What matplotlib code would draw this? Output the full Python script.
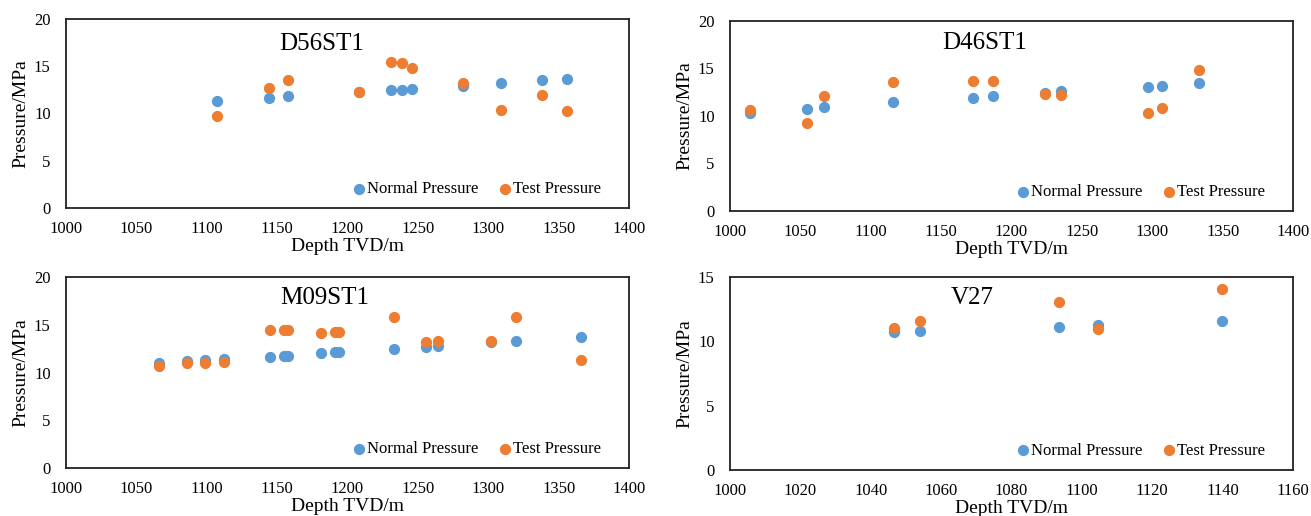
import numpy as np
import matplotlib.pyplot as plt

plt.rcParams['font.family'] = ['Liberation Serif', 'DejaVu Serif']

blue = '#5B9BD5'
orange = '#ED7D31'

# D56ST1
d56_depth = [1107, 1144, 1158, 1208, 1231, 1239, 1246, 1282, 1309, 1338, 1356]
d56_normal = [11.37, 11.6, 11.8, 12.3, 12.46, 12.5, 12.6, 12.9, 13.2, 13.5, 13.66]
d56_test = [9.75, 12.75, 13.5, 12.3, 15.5, 15.35, 14.8, 13.2, 10.4, 12.0, 10.3]

# D46ST1
d46_depth = [1014, 1055, 1067, 1116, 1173, 1187, 1224, 1235, 1297, 1307, 1333]
d46_normal = [10.3, 10.77, 10.95, 11.44, 11.94, 12.1, 12.46, 12.6, 13.1, 13.2, 13.5]
d46_test = [10.63, 9.26, 12.15, 13.6, 13.66, 13.66, 12.36, 12.25, 10.28, 10.85, 14.8]

# M09ST1
m09_depth = [1066, 1086, 1099, 1112, 1145, 1155, 1158, 1181, 1191, 1194,
             1233, 1256, 1264, 1302, 1320, 1366]
m09_normal = [10.96, 11.17, 11.27, 11.4, 11.65, 11.72, 11.72, 12.03, 12.1, 12.1,
              12.49, 12.7, 12.77, 13.15, 13.32, 13.67]
m09_test = [10.71, 10.99, 10.96, 11.06, 14.43, 14.5, 14.5, 14.12, 14.22, 14.22,
            15.8, 13.15, 13.32, 13.32, 15.8, 11.3]

# V27
v27_depth = [1046.6, 1054, 1093.4, 1104.6, 1139.7]
v27_normal = [10.7, 10.8, 11.12, 11.28, 11.6]
v27_test = [11.07, 11.56, 13.07, 11.0, 14.09]

panels = [
    ('D56ST1', d56_depth, d56_normal, d56_test, [0.0503, 0.5969, 0.4295, 0.3663],
     (1000, 1400), np.arange(1000, 1401, 50), (0, 20), [0, 5, 10, 15, 20], (0.455, 0.87)),
    ('D46ST1', d46_depth, d46_normal, d46_test, [0.5568, 0.5911, 0.4295, 0.3682],
     (1000, 1400), np.arange(1000, 1401, 50), (0, 20), [0, 5, 10, 15, 20], (0.453, 0.885)),
    ('M09ST1', m09_depth, m09_normal, m09_test, [0.0503, 0.0930, 0.4295, 0.3702],
     (1000, 1400), np.arange(1000, 1401, 50), (0, 20), [0, 5, 10, 15, 20], (0.46, 0.89)),
    ('V27', v27_depth, v27_normal, v27_test, [0.5568, 0.0891, 0.4295, 0.374],
     (1000, 1160), np.arange(1000, 1161, 20), (0, 15), [0, 5, 10, 15], (0.43, 0.89)),
]

fig = plt.figure(figsize=(13.11, 5.16), dpi=100)

for name, depth, normal, test, pos, xlim, xticks, ylim, yticks, tpos in panels:
    ax = fig.add_axes(pos)
    ax.scatter(depth, normal, s=50, color=blue, label='Normal Pressure', zorder=3)
    ax.scatter(depth, test, s=50, color=orange, label='Test Pressure', zorder=3)
    ax.set_xlim(*xlim)
    ax.set_ylim(*ylim)
    ax.set_xticks(xticks)
    ax.set_yticks(yticks)
    ax.tick_params(axis='x', length=0, labelsize=12, pad=9.5)
    ax.tick_params(axis='y', length=0, labelsize=12, pad=11)
    for sp in ax.spines.values():
        sp.set_linewidth(1.3)
        sp.set_color('#222222')
    ax.set_xlabel('Depth TVD/m', fontsize=14, labelpad=0.5)
    ax.set_ylabel('Pressure/MPa', fontsize=14, labelpad=3.5)
    ax.text(tpos[0], tpos[1], name, transform=ax.transAxes, fontsize=18,
            ha='center', va='center')
    ax.legend(loc='center right', ncol=2, frameon=False, fontsize=12,
              handletextpad=-0.5, columnspacing=0.55, borderaxespad=0,
              bbox_to_anchor=(0.962, 0.10))

fig.savefig('out.png', dpi=100)
